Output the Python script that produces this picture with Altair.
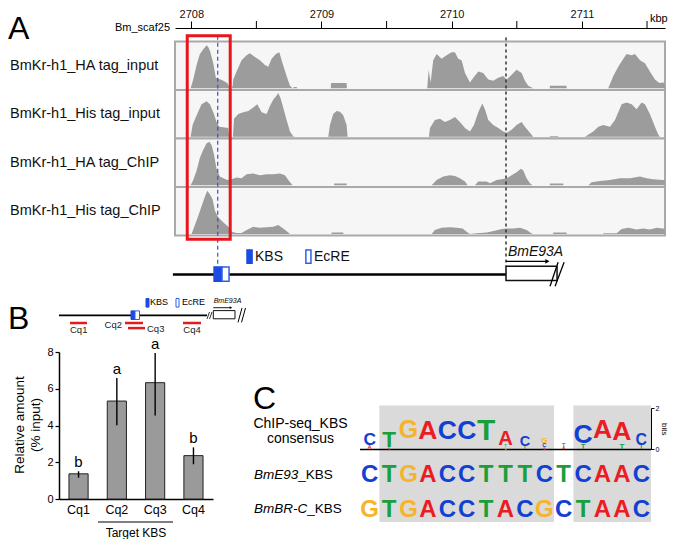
import altair as alt
import pandas as pd

FONT = "Liberation Sans"

# ---------------- Panel A data ----------------
track_names = ["BmKr-h1_HA tag_input", "BmKr-h1_His tag_input",
               "BmKr-h1_HA tag_ChIP", "BmKr-h1_His tag_ChIP"]

ha_input = [(2707.995, 0), (2708.005, 0.10), (2708.015, 0.20), (2708.041, 0.53), (2708.066, 0.78),
            (2708.092, 0.89), (2708.118, 0.98), (2708.130, 0.94), (2708.143, 0.86), (2708.169, 0.57),
            (2708.189, 0.24), (2708.207, 0.22), (2708.246, 0.17), (2708.276, 0.12), (2708.292, 0.02),
            (2708.310, 0.0), (2708.317, 0.05), (2708.322, 0.20), (2708.348, 0.38), (2708.386, 0.64),
            (2708.425, 0.75), (2708.450, 0.80), (2708.489, 0.71), (2708.527, 0.64), (2708.566, 0.53),
            (2708.591, 0.49), (2708.617, 0.67), (2708.650, 0.78), (2708.676, 0.82), (2708.701, 0.57),
            (2708.732, 0.28), (2708.758, 0.06), (2708.778, 0.0), (2708.790, 0.03), (2708.809, 0.03),
            (2708.814, 0.0), (2709.072, 0.0), (2709.073, 0.12), (2709.193, 0.12), (2709.195, 0.0),
            (2709.812, 0.0), (2709.823, 0.42), (2709.838, 0.13), (2709.858, 0.64), (2709.884, 0.78),
            (2709.922, 0.67), (2709.961, 0.75), (2709.999, 0.82), (2710.025, 0.82), (2710.050, 0.67),
            (2710.076, 0.64), (2710.102, 0.35), (2710.140, 0.13), (2710.166, 0.24), (2710.204, 0.38),
            (2710.242, 0.35), (2710.281, 0.20), (2710.319, 0.17), (2710.358, 0.24), (2710.396, 0.28),
            (2710.422, 0.20), (2710.460, 0.31), (2710.498, 0.42), (2710.537, 0.35), (2710.562, 0.17),
            (2710.588, 0.06), (2710.626, 0.0), (2710.753, 0.0), (2710.754, 0.06), (2710.882, 0.06),
            (2710.883, 0.0), (2711.202, 0.0), (2711.241, 0.28), (2711.279, 0.49), (2711.318, 0.67),
            (2711.343, 0.78), (2711.382, 0.75), (2711.407, 0.78), (2711.446, 0.64), (2711.484, 0.57),
            (2711.522, 0.38), (2711.561, 0.20), (2711.594, 0.12), (2711.620, 0.13), (2711.637, 0.12)]

his_input = [(2707.995, 0), (2708.010, 0.27), (2708.041, 0.49), (2708.079, 0.74), (2708.118, 0.81),
             (2708.143, 0.74), (2708.169, 0.56), (2708.194, 0.34), (2708.215, 0.23), (2708.258, 0.21),
             (2708.284, 0.20), (2708.292, 0.0), (2708.320, 0.0), (2708.328, 0.41), (2708.361, 0.52),
             (2708.399, 0.56), (2708.438, 0.59), (2708.476, 0.67), (2708.507, 0.74), (2708.540, 0.56),
             (2708.578, 0.52), (2708.604, 0.70), (2708.630, 0.85), (2708.650, 0.92), (2708.668, 1.00),
             (2708.686, 0.88), (2708.706, 0.67), (2708.732, 0.38), (2708.758, 0.12), (2708.783, 0.01),
             (2708.796, 0.0), (2709.052, 0.0), (2709.065, 0.27), (2709.090, 0.52), (2709.116, 0.59),
             (2709.142, 0.57), (2709.167, 0.49), (2709.193, 0.27), (2709.200, 0.0), (2709.825, 0.0),
             (2709.833, 0.20), (2709.871, 0.38), (2709.910, 0.41), (2709.948, 0.34), (2709.986, 0.38),
             (2710.025, 0.45), (2710.063, 0.34), (2710.102, 0.20), (2710.140, 0.12), (2710.171, 0.27),
             (2710.204, 0.56), (2710.235, 0.76), (2710.255, 0.63), (2710.281, 0.38), (2710.319, 0.27),
             (2710.358, 0.20), (2710.396, 0.12), (2710.422, 0.09), (2710.460, 0.16), (2710.498, 0.27),
             (2710.537, 0.34), (2710.562, 0.23), (2710.601, 0.09), (2710.626, 0.0), (2710.753, 0.0),
             (2710.754, 0.02), (2710.818, 0.02), (2710.819, 0.0), (2711.023, 0.0), (2711.087, 0.12),
             (2711.126, 0.23), (2711.164, 0.27), (2711.215, 0.23), (2711.254, 0.38), (2711.279, 0.56),
             (2711.305, 0.74), (2711.343, 0.78), (2711.382, 0.74), (2711.420, 0.63), (2711.458, 0.78),
             (2711.484, 0.74), (2711.522, 0.52), (2711.561, 0.23), (2711.586, 0.05), (2711.599, 0.0)]

ha_chip = [(2707.995, 0), (2708.015, 0.12), (2708.041, 0.34), (2708.066, 0.63), (2708.092, 0.81),
           (2708.118, 0.96), (2708.138, 0.99), (2708.156, 0.92), (2708.174, 0.71), (2708.194, 0.38),
           (2708.220, 0.20), (2708.246, 0.16), (2708.276, 0.12), (2708.310, 0.14), (2708.348, 0.18),
           (2708.386, 0.16), (2708.425, 0.25), (2708.476, 0.27), (2708.527, 0.23), (2708.578, 0.25),
           (2708.630, 0.25), (2708.681, 0.27), (2708.719, 0.23), (2708.745, 0.12), (2708.778, 0.0),
           (2709.097, 0.0), (2709.098, 0.04), (2709.193, 0.04), (2709.194, 0.0), (2709.846, 0.0),
           (2709.884, 0.12), (2709.935, 0.20), (2709.986, 0.23), (2710.025, 0.21), (2710.063, 0.16),
           (2710.102, 0.09), (2710.122, 0.0), (2710.178, 0.0), (2710.204, 0.09), (2710.268, 0.09),
           (2710.294, 0.05), (2710.345, 0.12), (2710.383, 0.14), (2710.422, 0.16), (2710.460, 0.23),
           (2710.498, 0.30), (2710.532, 0.38), (2710.550, 0.34), (2710.575, 0.16), (2710.601, 0.05),
           (2710.621, 0.0), (2710.753, 0.0), (2710.754, 0.04), (2710.857, 0.04), (2710.858, 0.0),
           (2711.049, 0.0), (2711.074, 0.07), (2711.138, 0.10), (2711.215, 0.12), (2711.292, 0.16),
           (2711.369, 0.16), (2711.446, 0.20), (2711.497, 0.16), (2711.548, 0.14), (2711.620, 0.12),
           (2711.637, 0.12)]

his_chip = [(2708.002, 0), (2708.028, 0.20), (2708.054, 0.41), (2708.079, 0.63), (2708.105, 0.85),
            (2708.123, 0.98), (2708.143, 0.90), (2708.164, 0.78), (2708.182, 0.52), (2708.207, 0.38),
            (2708.233, 0.30), (2708.258, 0.23), (2708.284, 0.16), (2708.310, 0.05), (2708.348, 0.02),
            (2708.386, 0.02), (2708.425, 0.09), (2708.476, 0.16), (2708.527, 0.14), (2708.578, 0.15),
            (2708.630, 0.16), (2708.668, 0.20), (2708.706, 0.12), (2708.745, 0.03), (2708.758, 0.0),
            (2709.077, 0.0), (2709.078, 0.03), (2709.167, 0.03), (2709.168, 0.0), (2709.846, 0.0),
            (2709.871, 0.09), (2709.922, 0.14), (2709.986, 0.15), (2710.038, 0.14), (2710.084, 0.12),
            (2710.114, 0.05), (2710.140, 0.0), (2710.191, 0.015), (2710.268, 0.03), (2710.332, 0.07),
            (2710.383, 0.11), (2710.422, 0.12), (2710.473, 0.12), (2710.524, 0.14), (2710.575, 0.09),
            (2710.614, 0.01), (2710.626, 0.0), (2710.779, 0.0), (2710.780, 0.03), (2710.882, 0.03),
            (2710.883, 0.0), (2711.163, 0.0), (2711.164, 0.015), (2711.266, 0.015), (2711.305, 0.11),
            (2711.356, 0.14), (2711.420, 0.10), (2711.471, 0.12), (2711.522, 0.10), (2711.574, 0.14),
            (2711.620, 0.12), (2711.637, 0.12)]

region_kbp = [2707.875, 2711.638]
major_ticks_kbp = [2708, 2709, 2710, 2711]
minor_ticks_kbp = [2708.5, 2709.5, 2710.5, 2711.5]
red_box_kbp = [2707.969, 2708.299]
kbs_line_kbp = 2708.203
tss_kbp = 2710.417
kbs_box_kbp = [2708.175, 2708.236]
ecre_box_kbp = [2708.236, 2708.290]
gene_box_kbp = [2710.417, 2710.809]
line_start_kbp = 2707.859

# ---------------- Panel B data ----------------
cq_labels = ["Cq1", "Cq2", "Cq3", "Cq4"]
rel_amount = [1.37, 5.33, 6.33, 2.36]
err_low = [1.16, 4.02, 4.54, 1.89]
err_high = [1.51, 6.58, 7.95, 2.81]
sig_letters = ["b", "a", "a", "b"]

# ---------------- Panel C data ----------------
logo_pos = [1, 1, 2, 2, 3, 4, 5, 6, 7, 8, 8, 8, 9, 9, 10, 10, 10, 11, 11, 12, 12, 13, 14, 14, 15, 15]
logo_letter = ["A", "C", "A", "T", "G", "A", "C", "C", "T", "G", "T", "A", "T", "C",
               "A", "C", "G", "A", "T", "T", "C", "A", "T", "A", "T", "C"]
logo_bits = [0.20, 0.60, 0.10, 0.78, 1.97, 1.95, 1.93, 1.93, 1.95, 0.10, 0.12, 0.70, 0.18, 0.50,
             0.10, 0.20, 0.28, 0.12, 0.18, 0.25, 1.08, 1.97, 0.28, 1.23, 0.23, 0.55]
seq_bme93 = "CTGACCTTTCTCAAC"
seq_bmbrc = "GTGACCTACGCTAAC"
shade_start = [1.5, 11.5]
shade_end = [10.5, 15.5]
nt_domain = ["A", "C", "G", "T"]
nt_colors = ["#ec1c24", "#1240d2", "#f6b42a", "#1a9f3b"]

one = pd.DataFrame({"k": [0]})


def txt(text, x, y, size, align="left", baseline="middle", color="black", font=FONT, **kw):
    return alt.Chart(one).mark_text(text=text, fontSize=size, align=align, baseline=baseline,
                                    font=font, color=color, **kw).encode(
        x=alt.value(x), y=alt.value(y))


def rule_px(x1, y1, x2, y2, color="black", width=1.0):
    return alt.Chart(one).mark_rule(color=color, strokeWidth=width).encode(
        x=alt.value(x1), y=alt.value(y1), x2=alt.value(x2), y2=alt.value(y2))


def rect_px(x1, y1, x2, y2, fill, stroke, width=1.0):
    return alt.Chart(one).mark_rect(fill=fill, stroke=stroke, strokeWidth=width).encode(
        x=alt.value(x1), y=alt.value(y1), x2=alt.value(x2), y2=alt.value(y2))


# ======================= Panel A =======================
xs = alt.Scale(domain=region_kbp, range=[116, 606], nice=False, zero=False)
ys = alt.Scale(domain=[-1.143, 4.276], nice=False, zero=False)
axA = alt.Axis(orient="top", values=major_ticks_kbp, format="d", tickSize=7, labelPadding=2,
               labelFontSize=11, labelColor="#111", labelFont=FONT, domainColor="black",
               tickColor="black", labelFlush=False, title=None, grid=False)


def XA(f):
    return alt.X(f, scale=xs, axis=axA)


def YA(f):
    return alt.Y(f, scale=ys, axis=None)


bg_df = pd.DataFrame({"track": track_names, "x0": region_kbp[0], "x1": region_kbp[1],
                      "top": [4, 3, 2, 1], "bot": [3, 2, 1, 0], "mid": [3.5, 2.5, 1.5, 0.5]})

bg = alt.Chart(bg_df).mark_rect(fill="#f6f6f6", stroke="#a9a9a9", strokeWidth=2).encode(
    x=XA("x0:Q"), x2="x1:Q", y=YA("bot:Q"), y2="top:Q")

minor_df = pd.DataFrame({"x": minor_ticks_kbp})
minor = alt.Chart(minor_df).mark_rule(color="black", strokeWidth=1).encode(
    x=XA("x:Q"), y=alt.value(-7), y2=alt.value(0))

cov_layers = []
for ti, prof in enumerate([ha_input, his_input, ha_chip, his_chip]):
    base = 3 - ti + 0.034
    df = pd.DataFrame({"kbp": [p[0] for p in prof], "cov": [p[1] for p in prof]})
    df["ybase"] = base
    df["ytop"] = base + df["cov"] * 0.905
    cov_layers.append(alt.Chart(df).mark_area(color="#9c9c9c").encode(
        x=XA("kbp:Q"), y=YA("ytop:Q"), y2="ybase:Q"))

labels = alt.Chart(bg_df).mark_text(align="left", baseline="middle", fontSize=14.5, font=FONT,
                                    color="#111").encode(
    x=alt.value(-49), y=YA("mid:Q"), text="track:N")

box_df = pd.DataFrame({"x0": [red_box_kbp[0]], "x1": [red_box_kbp[1]], "y0": [-0.079], "y1": [4.118]})
red_box = alt.Chart(box_df).mark_rect(fillOpacity=0, stroke="#e8161c", strokeWidth=3).encode(
    x=XA("x0:Q"), x2="x1:Q", y=YA("y0:Q"), y2="y1:Q")

blue_df = pd.DataFrame({"x": [kbs_line_kbp], "y0": [4.118], "y1": [-0.65]})
black_df = pd.DataFrame({"x": [tss_kbp], "y0": [4.079], "y1": [-0.631]})
blue_dash = alt.Chart(blue_df).mark_rule(color="#3556d0", strokeWidth=1.2, strokeDash=[4, 3]).encode(
    x=XA("x:Q"), y=YA("y0:Q"), y2="y1:Q")
black_dash = alt.Chart(black_df).mark_rule(color="#333333", strokeWidth=1.5, strokeDash=[3, 3]).encode(
    x=XA("x:Q"), y=YA("y0:Q"), y2="y1:Q")

line_df = pd.DataFrame({"x0": [line_start_kbp], "x1": [tss_kbp], "y": [-0.802]})
main_line = alt.Chart(line_df).mark_rule(color="black", strokeWidth=2.5).encode(
    x=XA("x0:Q"), x2="x1:Q", y=YA("y:Q"))

elem_df = pd.DataFrame({
    "x0": [kbs_box_kbp[0], ecre_box_kbp[0], gene_box_kbp[0], 2708.428, 2708.880],
    "x1": [kbs_box_kbp[1], ecre_box_kbp[1], gene_box_kbp[1], 2708.467, 2708.919],
    "y0": [-0.94, -0.94, -0.926, -0.571, -0.571],
    "y1": [-0.65, -0.65, -0.631, -0.296, -0.296],
    "kind": ["kbs", "ecre", "gene", "kbs", "ecre"]})
elem_fill = alt.Scale(domain=["kbs", "ecre", "gene"], range=["#1b4be2", "#ffffff", "#ffffff"])
elem_stroke = alt.Scale(domain=["kbs", "ecre", "gene"], range=["#1b4be2", "#2f5fe6", "#111111"])
elems = alt.Chart(elem_df).mark_rect(strokeWidth=1.5).encode(
    x=XA("x0:Q"), x2="x1:Q", y=YA("y0:Q"), y2="y1:Q",
    fill=alt.Fill("kind:N", scale=elem_fill, legend=None),
    stroke=alt.Stroke("kind:N", scale=elem_stroke, legend=None))

arrow_df = pd.DataFrame({"x0": [tss_kbp], "x1": [2710.735], "y": [-0.532]})
arrow_line = alt.Chart(arrow_df).mark_rule(color="black", strokeWidth=1.2).encode(
    x=XA("x0:Q"), x2="x1:Q", y=YA("y:Q"))
arrow_head = alt.Chart(arrow_df).mark_point(shape="triangle-right", filled=True, color="black",
                                            size=22, opacity=1).encode(x=XA("x1:Q"), y=YA("y:Q"))

slash_df = pd.DataFrame({"x0": [2710.755, 2710.794], "x1": [2710.817, 2710.863],
                         "y0": [-1.044, -1.044], "y1": [-0.552, -0.552]})
slashes = alt.Chart(slash_df).mark_rule(color="black", strokeWidth=1.3).encode(
    x=XA("x0:Q"), x2="x1:Q", y=YA("y0:Q"), y2="y1:Q")

schem_txt_df = pd.DataFrame({"x": [2708.489, 2708.942], "y": [-0.433, -0.433], "t": ["KBS", "EcRE"]})
schem_txt = alt.Chart(schem_txt_df).mark_text(align="left", baseline="middle", fontSize=14,
                                              font=FONT, color="#111").encode(
    x=XA("x:Q"), y=YA("y:Q"), text="t:N")
gene_txt_df = pd.DataFrame({"x": [2710.432], "y": [-0.335], "t": ["BmE93A"]})
gene_txt = alt.Chart(gene_txt_df).mark_text(align="left", baseline="middle", fontSize=14,
                                            font=FONT, fontStyle="italic", color="#111").encode(
    x=XA("x:Q"), y=YA("y:Q"), text="t:N")

panelA = alt.layer(
    bg, *cov_layers, minor, labels, black_dash, main_line, elems, blue_dash, red_box,
    arrow_line, arrow_head, slashes, schem_txt, gene_txt,
    txt("A", -51, 0.5, 32),
    txt("Bm_scaf25", 111, 0, 11, align="right"),
    txt("kbp", 591, -9, 11),
).properties(width=606, height=263)

# ======================= Panel B =======================
bdf = pd.DataFrame({"cq": cq_labels, "val": rel_amount, "lo": err_low, "hi": err_high, "sig": sig_letters})
bscale_x = alt.Scale(domain=cq_labels, paddingInner=0.5, paddingOuter=0.26)
bscale_y = alt.Scale(domain=[0, 8], nice=False)
axBx = alt.Axis(title=None, labelAngle=0, ticks=False, domainColor="black", domainWidth=1.5,
                labelFontSize=12.5, labelPadding=4, labelColor="black", labelFont=FONT, grid=False)
axBy = alt.Axis(values=[0, 2, 4, 6, 8], title=None, tickSize=4, grid=False, domainColor="black",
                domainWidth=1.5, tickColor="black", tickWidth=1.2, labelFontSize=11,
                labelColor="black", labelFont=FONT, labelPadding=2)

bars = alt.Chart(bdf).mark_bar(color="#9a9a9a", stroke="#222222", strokeWidth=1).encode(
    x=alt.X("cq:N", scale=bscale_x, axis=axBx), y=alt.Y("val:Q", scale=bscale_y, axis=axBy))
errs = alt.Chart(bdf).mark_rule(color="black", strokeWidth=1.4).encode(
    x=alt.X("cq:N", scale=bscale_x, axis=axBx),
    y=alt.Y("lo:Q", scale=bscale_y, axis=axBy), y2="hi:Q")
sig = alt.Chart(bdf).mark_text(fontSize=15, baseline="alphabetic", dy=-4, font=FONT, color="black").encode(
    x=alt.X("cq:N", scale=bscale_x, axis=axBx),
    y=alt.Y("hi:Q", scale=bscale_y, axis=axBy), text="sig:N")

red = "#e41a1c"
b_ann = [
    txt("B", -51, -33.5, 32),
    txt("Relative amount", -39, 73, 13.5, align="center", angle=270),
    txt("(% input)", -23.5, 73, 13.5, align="center", angle=270),
    rule_px(0, -36.6, 148, -36.6, "black", 1.8),
    rule_px(148, -33, 150.5, -40, "black", 0.8),
    rule_px(150.5, -33, 153, -40, "black", 0.8),
    rect_px(72, -41.1, 76, -32.5, "#1b4be2", "#1b4be2", 1),
    rect_px(76, -41.1, 80.5, -32.5, "#ffffff", "#2f5fe6", 1),
    rect_px(154.3, -41.4, 176, -33.2, "#ffffff", "#111111", 1),
    rule_px(154.3, -44.3, 171, -44.3, "black", 0.9),
    alt.Chart(one).mark_point(shape="triangle-right", filled=True, color="black", size=8, opacity=1).encode(
        x=alt.value(172), y=alt.value(-44.3)),
    rule_px(179, -29.6, 183, -44, "black", 1),
    rule_px(182.5, -29.6, 186.5, -44, "black", 1),
    rect_px(87, -53.5, 90, -44.9, "#1b4be2", "#1b4be2", 1),
    txt("KBS", 91, -49.7, 9),
    rect_px(117, -53.5, 120, -44.9, "#ffffff", "#2f5fe6", 1),
    txt("EcRE", 123, -49.7, 9),
    txt("BmE93A", 168.5, -51.5, 7, align="center", fontStyle="italic"),
    rule_px(11, -29.0, 28, -29.0, red, 2.5),
    rule_px(66, -29.0, 84, -29.0, red, 2.5),
    rule_px(69, -23.9, 86, -23.9, red, 2.5),
    rule_px(124, -29.0, 142, -29.0, red, 2.5),
    txt("Cq1", 19.7, -22.0, 9.5, align="center", color="#222"),
    txt("Cq2", 63, -27.4, 9.5, align="right", color="#222"),
    txt("Cq3", 88, -23.2, 9.5, align="left", color="#222"),
    txt("Cq4", 133, -22.0, 9.5, align="center", color="#222"),
    rule_px(39, 170, 114, 170, "black", 1.2),
    txt("Target KBS", 77, 180.5, 12, align="center"),
]

panelB = alt.layer(bars, errs, sig, *b_ann).properties(width=154, height=147)

# ======================= Panel C =======================
PX_PER_BIT = (97.4 - 56.0) / 2
MAX_FS = {"A": 26.5, "C": 26.5, "G": 25.0, "T": 30.0}
logo_rows = []
cum = {}
for p, l, b in zip(logo_pos, logo_letter, logo_bits):
    y0 = cum.get(p, 0.0)
    y1 = y0 + b
    cum[p] = y1
    fs = min(MAX_FS[l], b * PX_PER_BIT / 0.716)
    ytext = (y0 + y1) / 2 - (fs * 0.716 / 2) / PX_PER_BIT
    logo_rows.append({"pos": p, "letter": l, "bits": b, "fs": fs, "ytext": ytext})
logo_df = pd.DataFrame(logo_rows)

xC = alt.Scale(domain=[0.5, 15.5], nice=False, zero=False)
yC = alt.Scale(domain=[0, 2], range=[97.4, 56.0], nice=False, zero=False)
axC = alt.Axis(orient="right", values=[0, 1, 2], format="d", tickSize=3, labelFontSize=7,
               labelPadding=1, labelOverlap=False, title="bits", titleFontSize=8,
               titleFontWeight="normal", titlePadding=1, domainColor="black", tickColor="black",
               labelColor="black", titleColor="black", labelFont=FONT, titleFont=FONT, grid=False)
colC = alt.Color("letter:N", scale=alt.Scale(domain=nt_domain, range=nt_colors), legend=None)

shade_df = pd.DataFrame({"s": shade_start, "e": shade_end})
shade = alt.Chart(shade_df).mark_rect(color="#dadada").encode(
    x=alt.X("s:Q", scale=xC, axis=None), x2="e:Q", y=alt.value(53.5), y2=alt.value(170))

base_df = pd.DataFrame({"x0": [0.5], "x1": [15.5], "y": [0.0]})
base_rule = alt.Chart(base_df).mark_rule(color="black", strokeWidth=1.5).encode(
    x=alt.X("x0:Q", scale=xC, axis=None), x2="x1:Q", y=alt.Y("y:Q", scale=yC, axis=axC))

logo = alt.Chart(logo_df).mark_text(font=FONT, fontWeight="bold", baseline="alphabetic",
                                    align="center").encode(
    x=alt.X("pos:Q", scale=xC, axis=None),
    y=alt.Y("ytext:Q", scale=yC, axis=axC),
    text="letter:N", size=alt.Size("fs:Q", scale=None), color=colC)

seq_df1 = pd.DataFrame({"pos": list(range(1, 16)), "letter": list(seq_bme93)})
seq_df2 = pd.DataFrame({"pos": list(range(1, 16)), "letter": list(seq_bmbrc)})
seq1 = alt.Chart(seq_df1).mark_text(font=FONT, fontWeight="bold", fontSize=24, baseline="middle").encode(
    x=alt.X("pos:Q", scale=xC, axis=None), y=alt.value(123.2), text="letter:N", color=colC)
seq2 = alt.Chart(seq_df2).mark_text(font=FONT, fontWeight="bold", fontSize=24, baseline="middle").encode(
    x=alt.X("pos:Q", scale=xC, axis=None), y=alt.value(158.3), text="letter:N", color=colC)

c_ann = [
    txt("C", -107, 46.5, 32),
    txt("ChIP-seq_KBS", -59.5, 71.5, 14, align="center"),
    txt("consensus", -59.5, 87.0, 14, align="center"),
    txt("BmE93", -106, 122.9, 13.5, fontStyle="italic"),
    txt("_KBS", -106 + 44.3, 122.9, 13.5),
    txt("BmBR-C", -106, 157.4, 13.5, fontStyle="italic"),
    txt("_KBS", -106 + 53.2, 157.4, 13.5),
]

panelC = alt.layer(shade, base_rule, logo, seq1, seq2, *c_ann).properties(width=291, height=170)

bottom = alt.hconcat(panelB, panelC, spacing=147, bounds="flush")
chart = alt.vconcat(panelA, bottom, spacing=61, bounds="flush").properties(
    padding=0
).configure_view(stroke=None).configure_axis(grid=False).configure_text(font=FONT)

chart.save("out.html", embed_options={"renderer": "svg", "actions": False})
